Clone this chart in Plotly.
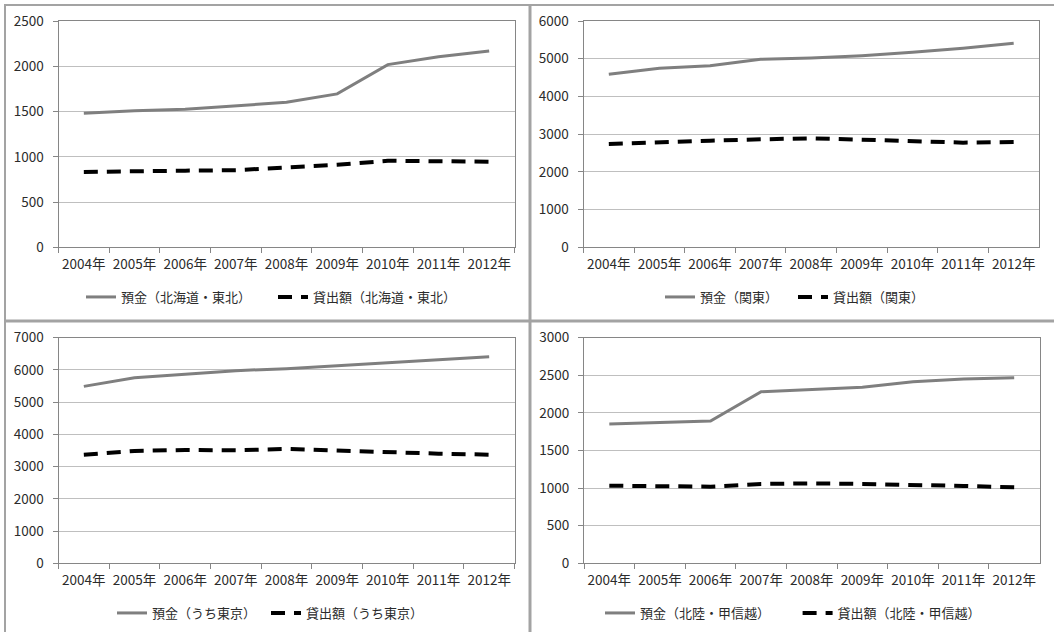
import plotly.graph_objects as go

# 年次ラベル
years = ["2004年", "2005年", "2006年", "2007年", "2008年", "2009年", "2010年", "2011年", "2012年"]

# 北海道・東北
deposit_hokkaido_tohoku = [1480, 1508, 1524, 1563, 1602, 1695, 2018, 2104, 2168]
loan_hokkaido_tohoku = [832, 843, 847, 852, 884, 912, 956, 950, 946]

# 関東
deposit_kanto = [4586, 4745, 4815, 4984, 5019, 5081, 5169, 5275, 5408]
loan_kanto = [2739, 2792, 2828, 2863, 2890, 2854, 2810, 2775, 2792]

# うち東京
deposit_tokyo = [5490, 5759, 5863, 5977, 6040, 6132, 6225, 6318, 6411]
loan_tokyo = [3371, 3485, 3516, 3505, 3547, 3495, 3423, 3402, 3371]

# 北陸・甲信越
deposit_hokuriku = [1852, 1874, 1892, 2282, 2309, 2340, 2415, 2451, 2468]
loan_hokuriku = [1032, 1028, 1019, 1055, 1063, 1055, 1046, 1028, 1010]

W, H = 1054, 632
FONT = "Noto Sans CJK JP"
TEXT = "#2b2b2b"
AXIS = "#868686"
GRID = "#bfbfbf"
FRAME = "#a3a3a3"

panels = [
    # (region, deposits, loans, ymax, dtick, px-box [left, right, top, bottom],
    #  legend [first line x, centre y, entry width])
    ("北海道・東北", deposit_hokkaido_tohoku, loan_hokkaido_tohoku, 2500, 500,
     (58.5, 514.5, 21, 247.3), (86, 297, 147)),
    ("関東", deposit_kanto, loan_kanto, 6000, 1000,
     (583.5, 1039, 21, 247.3), (665, 297, 88)),
    ("うち東京", deposit_tokyo, loan_tokyo, 7000, 1000,
     (58.5, 514.5, 337.7, 563.3), (117, 613, 109)),
    ("北陸・甲信越", deposit_hokuriku, loan_hokuriku, 3000, 500,
     (584, 1039.5, 337.7, 563.3), (605, 613, 152.6)),
]

fig = go.Figure()
layout = {}

for i, (region, dep, loan, ymax, dtick, box, leg) in enumerate(panels, start=1):
    sfx = "" if i == 1 else str(i)
    legend_name = "legend" if i == 1 else f"legend{i}"
    left, right, top, bottom = box

    fig.add_trace(go.Scatter(
        x=years, y=dep, mode="lines", name=f"預金（{region}）",
        line=dict(color="#7f7f7f", width=3),
        xaxis=f"x{sfx}", yaxis=f"y{sfx}", legend=legend_name,
    ))
    fig.add_trace(go.Scatter(
        x=years, y=loan, mode="lines", name=f"貸出額（{region}）",
        line=dict(color="#000000", width=4, dash="14px,9px"),
        xaxis=f"x{sfx}", yaxis=f"y{sfx}", legend=legend_name,
    ))

    layout[f"xaxis{sfx}"] = dict(
        domain=[left / W, right / W], anchor=f"y{sfx}", type="category",
        range=[-0.5, len(years) - 0.5], tickangle=0,
        tickson="boundaries", ticks="outside", ticklen=5, tickcolor=AXIS,
        showline=True, linecolor=AXIS, linewidth=1, mirror=True,
        showgrid=False, zeroline=False, automargin=False,
        ticklabelstandoff=4,
        tickfont=dict(family=FONT, size=13.5, color=TEXT),
        fixedrange=True,
    )
    layout[f"yaxis{sfx}"] = dict(
        domain=[1 - bottom / H, 1 - top / H], anchor=f"x{sfx}",
        range=[0, ymax], dtick=dtick, tick0=0,
        ticks="outside", ticklen=5, tickcolor=AXIS,
        showline=True, linecolor=AXIS, linewidth=1, mirror=True,
        showgrid=True, gridcolor=GRID, gridwidth=1, zeroline=False,
        automargin=False, ticklabelstandoff=6,
        tickfont=dict(family=FONT, size=13.5, color=TEXT),
        fixedrange=True,
    )
    layout[legend_name] = dict(
        orientation="h", x=(leg[0] - 5) / W, y=1 - leg[1] / H,
        xanchor="left", yanchor="middle",
        entrywidth=leg[2], entrywidthmode="pixels",
        font=dict(family=FONT, size=13, color=TEXT),
        bgcolor="rgba(0,0,0,0)", itemclick=False, itemdoubleclick=False,
    )

# セルの枠線
frame_lines = [
    dict(x0=4, x1=W, y0=5, y1=5, w=2),
    dict(x0=5, x1=5, y0=4, y1=H, w=2),
    dict(x0=530, x1=530, y0=4, y1=H, w=3),
    dict(x0=4, x1=W, y0=321, y1=321, w=3),
]
shapes = [
    dict(type="line", xref="paper", yref="paper",
         x0=s["x0"] / W, x1=s["x1"] / W, y0=1 - s["y0"] / H, y1=1 - s["y1"] / H,
         line=dict(color=FRAME, width=s["w"]))
    for s in frame_lines
]

fig.update_layout(
    width=W, height=H,
    margin=dict(l=0, r=0, t=0, b=0),
    paper_bgcolor="white", plot_bgcolor="white",
    showlegend=True, shapes=shapes,
    font=dict(family=FONT, color=TEXT),
    **layout,
)

fig.write_html("out.html", config={"displayModeBar": False})
